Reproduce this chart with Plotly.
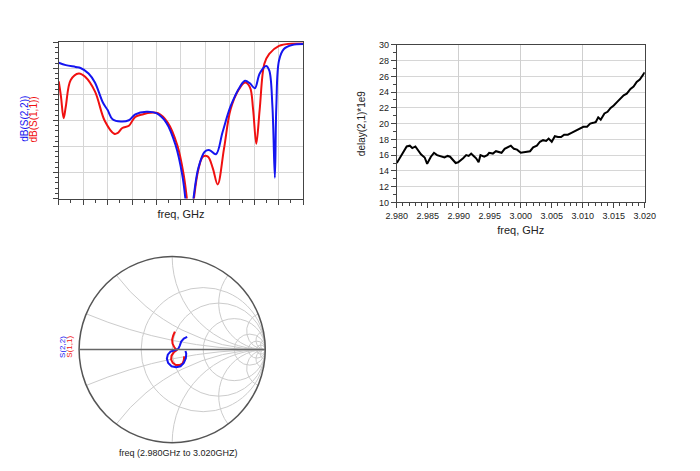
import numpy as np
import plotly.graph_objects as go

# ---------------- data ----------------
# top-left: dB(S(1,1)) and dB(S(2,2)) ; x in grid divisions (0..10) over 2.98..3.02 GHz
s22_div = [0, 0.29, 0.69, 0.89, 1.22, 1.48, 1.81, 2.0, 2.2, 2.54, 2.87, 3.13, 3.59, 3.99, 4.39, 4.78, 5.05, 5.18, 5.34, 5.51, 5.71, 5.97, 6.17, 6.43, 6.70, 7.03, 7.42, 7.62, 7.82, 8.02, 8.22, 8.48, 8.61, 8.74, 8.84, 8.90, 9.01, 9.21, 9.54, 10]
s22_db = [-7.8, -8.7, -9.4, -9.8, -11.9, -15.4, -23.2, -26, -29.5, -30.4, -29.9, -27.6, -26.6, -27.2, -30.7, -39.5, -50.8, -60, -75, -60, -48.3, -42, -41.4, -43, -34.5, -24.5, -16.9, -14.7, -15.7, -17.6, -11.9, -9, -10.7, -24.5, -52, -24.5, -6.9, -2.5, -1, -0.6]
s11_div = [0, 0.09, 0.20, 0.29, 0.49, 0.82, 1.08, 1.48, 1.88, 2.27, 2.40, 2.60, 2.87, 3.13, 3.46, 3.73, 4.06, 4.45, 4.85, 5.11, 5.24, 5.38, 5.53, 5.71, 5.90, 6.10, 6.30, 6.50, 6.76, 7.03, 7.36, 7.62, 7.82, 7.95, 8.08, 8.22, 8.41, 8.61, 9.01, 9.54, 10]
s11_db = [-15, -20.7, -29.1, -24.5, -14.4, -11.9, -13.2, -18.8, -30.1, -35.1, -34.9, -32.9, -32, -28.6, -27.6, -27, -27.2, -30.7, -39.5, -50.8, -60, -75, -60, -48.9, -43.9, -43.9, -48.3, -54.6, -40.8, -25.7, -18.2, -15.4, -17.2, -25.7, -38.9, -25.7, -8.2, -4.4, -1.3, -0.4, -0.3]

# top-right: group delay
delay_f = [2.9800, 2.9808, 2.9816, 2.9821, 2.9825, 2.9830, 2.9834, 2.9839, 2.9845, 2.9849, 2.9855, 2.9860, 2.9865, 2.9873, 2.9877, 2.9882, 2.9886, 2.9895, 2.9899, 2.9907, 2.9912, 2.9916, 2.9920, 2.9924, 2.9928, 2.9932, 2.9935, 2.9941, 2.9946, 2.9949, 2.9955, 2.9960, 2.9965, 2.9969, 2.9974, 2.9980, 2.9984, 2.9989, 2.9994, 3.0000, 3.0006, 3.0011, 3.0015, 3.0020, 3.0026, 3.0031, 3.0036, 3.0041, 3.0045, 3.0050, 3.0055, 3.0060, 3.0065, 3.0070, 3.0076, 3.0081, 3.0086, 3.0091, 3.0096, 3.0101, 3.0107, 3.0112, 3.0117, 3.0121, 3.0125, 3.0129, 3.0135, 3.0140, 3.0145, 3.0150, 3.0156, 3.0161, 3.0166, 3.0171, 3.0177, 3.0182, 3.0187, 3.0192, 3.0197, 3.0200]
delay_ns = [15.0, 16.0, 17.1, 17.2, 16.9, 17.1, 16.6, 16.1, 15.7, 14.9, 15.8, 16.3, 16.0, 15.8, 15.7, 15.9, 15.8, 15.0, 15.1, 15.6, 16.0, 15.9, 16.2, 15.9, 15.6, 15.1, 16.0, 15.8, 16.0, 16.3, 16.2, 16.5, 16.4, 16.3, 16.8, 17.0, 17.2, 16.8, 16.7, 16.3, 16.4, 16.5, 16.5, 17.0, 17.2, 17.7, 17.9, 17.8, 18.1, 17.7, 18.4, 18.3, 18.3, 18.6, 18.6, 18.8, 19.0, 19.1, 19.4, 19.6, 19.6, 20.0, 20.1, 20.2, 20.8, 20.5, 21.3, 21.5, 22.0, 22.3, 22.8, 23.2, 23.6, 23.8, 24.4, 24.7, 25.3, 25.6, 26.1, 26.5]

# bottom-left: reflection coefficients (gamma) for the Smith chart
s11_g_re = [0.029, 0.011, 0.000, 0.004, 0.025, 0.047, 0.018, -0.007, -0.011, 0.007, 0.039, 0.082, 0.111, 0.125, 0.129]
s11_g_im = [0.194, 0.151, 0.108, 0.065, 0.022, -0.007, -0.029, -0.065, -0.108, -0.143, -0.165, -0.165, -0.151, -0.115, -0.072]
s22_g_re = [0.161, 0.125, 0.097, 0.082, 0.065, 0.025, -0.018, -0.047, -0.057, -0.043, -0.007, 0.043, 0.090, 0.125, 0.147, 0.151, 0.143]
s22_g_im = [0.136, 0.118, 0.086, 0.043, 0.007, -0.007, -0.022, -0.054, -0.097, -0.143, -0.179, -0.190, -0.179, -0.143, -0.093, -0.043, -0.014]

f_start, f_stop = 2.98, 3.02
db_ticks = [-60, -50, -40, -30, -20, -10, 0]
delay_ticks = list(range(10, 31, 2))
freq_ticks = [2.980, 2.985, 2.990, 2.995, 3.000, 3.005, 3.010, 3.015, 3.020]

# ---------------- figure ----------------
RED = "#f01010"
BLUE = "#1515f0"
FONT = "Liberation Sans, Arial, sans-serif"

def div_to_f(d):
    return [f_start + v * (f_stop - f_start) / 10 for v in d]

def to_z(gr, gi):
    g = np.array(gr) + 1j * np.array(gi)
    z = (1 + g) / (1 - g)
    return z.real, z.imag

fig = go.Figure()

fig.add_trace(go.Scatter(x=div_to_f(s11_div), y=s11_db, mode="lines",
                         line=dict(color=RED, width=2), xaxis="x", yaxis="y",
                         line_shape="spline", showlegend=False))
fig.add_trace(go.Scatter(x=div_to_f(s22_div), y=s22_db, mode="lines",
                         line=dict(color=BLUE, width=2), xaxis="x", yaxis="y",
                         line_shape="spline", showlegend=False))

fig.add_trace(go.Scatter(x=delay_f, y=delay_ns, mode="lines",
                         line=dict(color="black", width=2), xaxis="x2", yaxis="y2",
                         showlegend=False))
# invisible trace to carry the coarse vertical grid of the delay plot
fig.add_trace(go.Scatter(x=[f_start, f_stop], y=[10, 10], mode="lines",
                         line=dict(width=0), xaxis="x3", yaxis="y2",
                         showlegend=False, hoverinfo="skip"))

zr, zi = to_z(s11_g_re, s11_g_im)
fig.add_trace(go.Scattersmith(real=zr, imag=zi, mode="lines",
                              line=dict(color=RED, width=2), showlegend=False))
zr, zi = to_z(s22_g_re, s22_g_im)
fig.add_trace(go.Scattersmith(real=zr, imag=zi, mode="lines",
                              line=dict(color=BLUE, width=2), showlegend=False))

W, H = 700, 471
def px_x(a, b):
    return [a / W, b / W]
def px_y(top, bottom):
    return [1 - bottom / H, 1 - top / H]

axis_common = dict(showline=True, mirror=True, linecolor="#444", linewidth=1,
                   gridcolor="#d6d6d6", gridwidth=1, zeroline=False,
                   ticks="outside", tickcolor="#444", ticklen=5,
                   tickfont=dict(family=FONT, size=9, color="#222"))

fig.update_layout(
    width=W, height=H,
    margin=dict(l=0, r=0, t=0, b=0),
    paper_bgcolor="white", plot_bgcolor="white",
    font=dict(family=FONT, color="#222"),
    xaxis=dict(domain=px_x(49.3, 301.7), anchor="y", range=[f_start, f_stop],
               dtick=(f_stop - f_start) / 10, tick0=f_start, showticklabels=False,
               minor=dict(dtick=(f_stop - f_start) / 20, ticklen=3, tickcolor="#444", ticks="outside"),
               title=dict(text="freq, GHz", font=dict(size=11, family=FONT), standoff=6),
               **axis_common),
    yaxis=dict(domain=px_y(38.3, 197.7), anchor="x", range=[-60, 0],
               tickvals=db_ticks, showticklabels=False,
               minor=dict(dtick=2, ticklen=3, tickcolor="#444", ticks="outside"),
               **axis_common),
    xaxis2=dict(domain=px_x(398.3, 654.3), anchor="y2", range=[f_start, f_stop],
                tickvals=freq_ticks, tickformat=".3f", showgrid=False,
                minor=dict(dtick=0.001, ticklen=3, tickcolor="#444", ticks="outside", showgrid=False),
                title=dict(text="freq, GHz", font=dict(size=11, family=FONT), standoff=6),
                **axis_common),
    xaxis3=dict(overlaying="x2", anchor="y2", range=[f_start, f_stop], dtick=0.01, tick0=f_start,
                showticklabels=False, ticks="", showgrid=True, gridcolor="#cfcfcf",
                showline=False, zeroline=False),
    yaxis2=dict(domain=px_y(40.7, 201.7), anchor="x2", range=[10, 30],
                tickvals=delay_ticks,
                minor=dict(dtick=1, ticklen=3, tickcolor="#444", ticks="outside"),
                title=dict(text="delay(2,1)*1e9", font=dict(size=10, family=FONT), standoff=11),
                **axis_common),
    smith=dict(
        domain=dict(x=px_x(70.3, 262.5), y=px_y(256, 448.2)),
        bgcolor="white",
        realaxis=dict(tickvals=[0.5, 1, 2, 5, 10, 20], showticklabels=False,
                      gridcolor="#cccccc", gridwidth=1, linecolor="#666", linewidth=1.5,
                      ticks=""),
        imaginaryaxis=dict(tickvals=[-20, -10, -5, -2, -1, -0.5, -0.2, 0.2, 0.5, 1, 2, 5, 10, 20],
                           showticklabels=False, gridcolor="#cccccc", gridwidth=1,
                           linecolor="#555", linewidth=1.5, ticks=""),
    ),
)

def label(x, y, text, color, size, angle=-90):
    fig.add_annotation(x=x / W, y=1 - y / H, xref="paper", yref="paper", text=text,
                       textangle=angle, showarrow=False, xanchor="center", yanchor="middle",
                       font=dict(color=color, size=size, family=FONT))

# rotated trace labels (top-left)
label(14, 116.7, "dB(S(2,2))", BLUE, 10)
label(23, 116.7, "dB(S(1,1))", RED, 10)
# smith labels
label(53, 349, "S(2,2)", BLUE, 8)
label(61, 349, "S(1,1)", RED, 8)
label(173, 458, "freq (2.980GHz to 3.020GHZ)", "#222", 9, angle=0)

fig.write_html("out.html")
